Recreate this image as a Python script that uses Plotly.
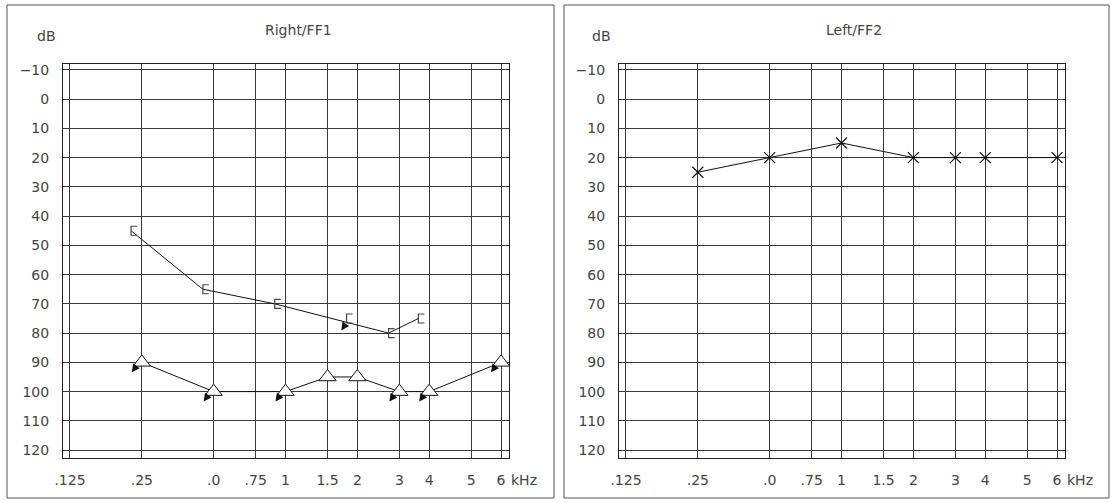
import numpy as np
import plotly.graph_objects as go

# ---------------- data ----------------
TICK_FREQS = [0.125, 0.25, 0.5, 0.75, 1, 1.5, 2, 3, 4, 6, 8]
TICK_LABELS = [".125", ".25", ".0", ".75", "1", "1.5", "2", "3", "4", "5", "6"]
DB_TICKS = list(range(-10, 121, 10))
DB_LABELS = ["\u221210"] + [str(v) for v in range(0, 121, 10)]

RIGHT_MASKED_FREQ = [0.25, 0.5, 1, 2, 3, 4]
RIGHT_MASKED_DB = [45, 65, 70, 75, 80, 75]
RIGHT_MASKED_NR = [False, False, False, True, False, False]

RIGHT_FF_FREQ = [0.25, 0.5, 1, 1.5, 2, 3, 4, 8]
RIGHT_FF_DB = [90, 100, 100, 95, 95, 100, 100, 90]
RIGHT_FF_NR = [True, True, True, False, False, True, True, True]

LEFT_FREQ = [0.25, 0.5, 1, 2, 3, 4, 8]
LEFT_DB = [25, 20, 15, 20, 20, 20, 20]

PANEL_TITLES = ["Right/FF1", "Left/FF2"]

# ---------------- style ----------------
W, H = 1111, 503
FONT = "DejaVu Sans"
TXT = "#444444"
GRID = "#3a3a3a"
BRACKET_SHIFT = -0.15      # octaves, bracket drawn left of its frequency line


def px_x(p):
    return p / W


def px_y(p):
    return 1 - p / H


def oct_(f):
    return np.log2(np.asarray(f, dtype=float))


fig = go.Figure()

# Right ear: masked bracket symbols (connecting line)
mf = np.array(RIGHT_MASKED_FREQ)
md = np.array(RIGHT_MASKED_DB)
mnr = np.array(RIGHT_MASKED_NR)
mx = oct_(mf) + BRACKET_SHIFT
fig.add_trace(go.Scatter(x=mx[~mnr], y=md[~mnr], mode="lines",
                         line=dict(color="#111", width=1),
                         xaxis="x", yaxis="y", hoverinfo="skip", showlegend=False))

# Right ear: free-field triangles
fig.add_trace(go.Scatter(x=oct_(RIGHT_FF_FREQ), y=RIGHT_FF_DB, mode="lines+markers",
                         line=dict(color="#111", width=1),
                         marker=dict(symbol="triangle-up", size=15, color="white",
                                     line=dict(color="#111", width=1)),
                         cliponaxis=False, xaxis="x", yaxis="y", showlegend=False))

# Left ear: crosses
fig.add_trace(go.Scatter(x=oct_(LEFT_FREQ), y=LEFT_DB, mode="lines+markers",
                         line=dict(color="#111", width=1),
                         marker=dict(symbol="x-thin", size=11,
                                     line=dict(color="#111", width=1.2)),
                         cliponaxis=False, xaxis="x2", yaxis="y2", showlegend=False))

shapes = []
# bracket symbols anchored at data points, sized in pixels
for x, d in zip(mx, md):
    shapes.append(dict(type="path", xref="x", yref="y",
                       xsizemode="pixel", ysizemode="pixel",
                       xanchor=float(x), yanchor=float(d),
                       path="M 6,4.5 L 0,4.5 L 0,-4.5 L 6,-4.5",
                       line=dict(color="#444", width=1.2), layer="above"))

annotations = []
# no-response arrows
for f, d, nr in zip(RIGHT_FF_FREQ, RIGHT_FF_DB, RIGHT_FF_NR):
    if nr:
        annotations.append(dict(x=float(oct_(f)), y=d, xref="x", yref="y", text="",
                                showarrow=True, arrowhead=2, arrowsize=1, arrowwidth=1.6,
                                arrowcolor="#111", ax=5, ay=-7, xshift=-10, yshift=-10))
for f, d, nr in zip(RIGHT_MASKED_FREQ, RIGHT_MASKED_DB, RIGHT_MASKED_NR):
    if nr:
        annotations.append(dict(x=float(oct_(f)), y=d, xref="x", yref="y", text="",
                                showarrow=True, arrowhead=2, arrowsize=1, arrowwidth=1.6,
                                arrowcolor="#111", ax=4, ay=-6, xshift=-16, yshift=-12))

panels = [(63, 509, "x", "y"), (619, 1065, "x2", "y2")]
boxes = [(7, 554), (564, 1109)]
for (bx0, bx1) in boxes:
    shapes.append(dict(type="rect", xref="paper", yref="paper",
                       x0=px_x(bx0), x1=px_x(bx1), y0=px_y(498), y1=px_y(5),
                       line=dict(color="#555", width=1), layer="below"))

for i, (x0, x1, xa, ya) in enumerate(panels):
    annotations.append(dict(text=PANEL_TITLES[i], x=px_x(x0 + 235), y=px_y(30),
                            xref="paper", yref="paper", showarrow=False,
                            font=dict(family=FONT, size=14, color=TXT),
                            xanchor="center", yanchor="middle"))
    annotations.append(dict(text="dB", x=px_x(x0 - 17), y=px_y(36),
                            xref="paper", yref="paper", showarrow=False,
                            font=dict(family=FONT, size=14, color=TXT),
                            xanchor="center", yanchor="middle"))
    annotations.append(dict(text="kHz", x=px_x(x1), y=px_y(480),
                            xref="paper", yref="paper", showarrow=False,
                            font=dict(family=FONT, size=14, color=TXT),
                            xanchor="left", yanchor="middle"))

xaxis_common = dict(range=[-3.097, 3.111], tickmode="array",
                    tickvals=list(oct_(TICK_FREQS)), ticktext=TICK_LABELS,
                    showgrid=True, gridcolor=GRID, gridwidth=1, zeroline=False,
                    showline=True, mirror=True, linecolor="#222", linewidth=1,
                    ticks="", ticklabelstandoff=9, automargin=False,
                    tickfont=dict(family=FONT, size=14, color=TXT), fixedrange=True)
yaxis_common = dict(range=[122.7, -12], tickmode="array", tickvals=DB_TICKS,
                    ticktext=DB_LABELS, showgrid=True, gridcolor=GRID, gridwidth=1,
                    zeroline=False, showline=True, mirror=True, linecolor="#222",
                    linewidth=1, ticks="", ticklabelstandoff=10, automargin=False,
                    tickfont=dict(family=FONT, size=14, color=TXT), fixedrange=True,
                    domain=[px_y(458), px_y(64)])

fig.update_layout(
    width=W, height=H, margin=dict(l=0, r=0, t=0, b=0),
    paper_bgcolor="white", plot_bgcolor="white",
    xaxis=dict(domain=[px_x(63), px_x(509)], anchor="y", **xaxis_common),
    yaxis=dict(anchor="x", **yaxis_common),
    xaxis2=dict(domain=[px_x(619), px_x(1065)], anchor="y2", **xaxis_common),
    yaxis2=dict(anchor="x2", **yaxis_common),
    annotations=annotations, shapes=shapes, showlegend=False,
)

fig.write_html("out.html",
               config={"displayModeBar": False, "staticPlot": True},
               post_script="document.body.style.margin='0px';"
                           "document.body.style.overflow='hidden';")
